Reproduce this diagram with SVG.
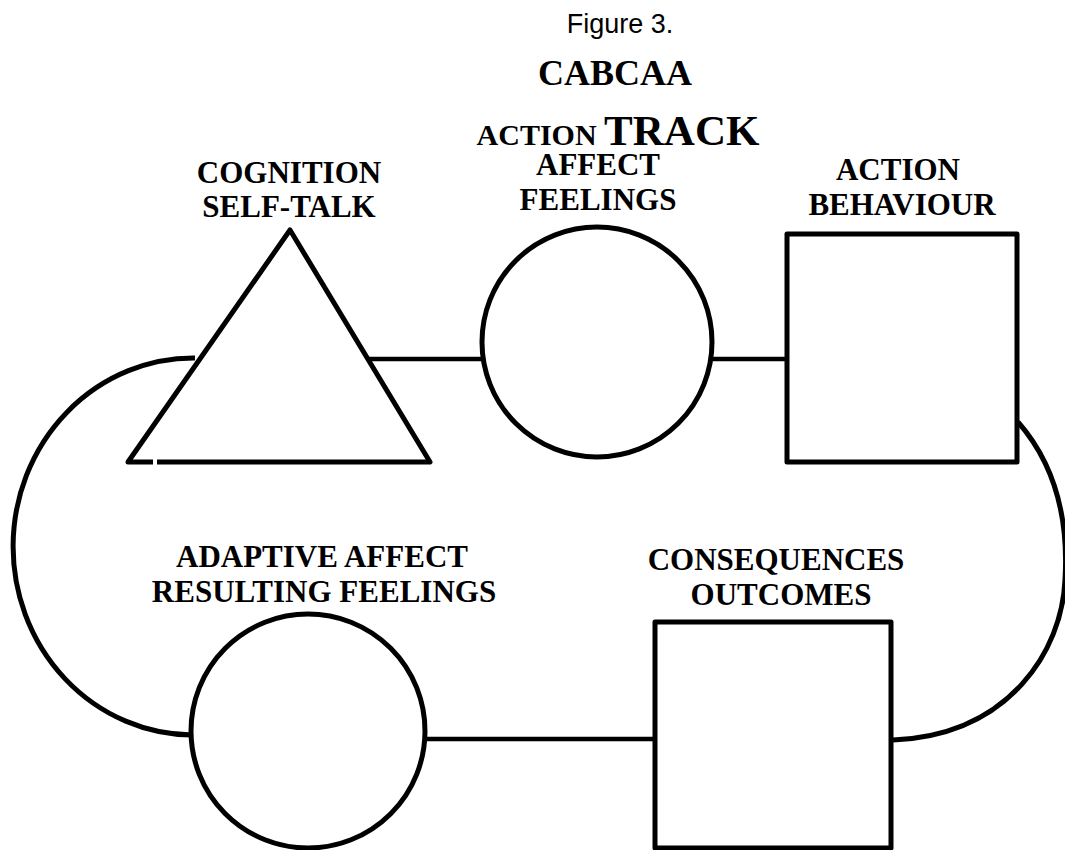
<svg xmlns="http://www.w3.org/2000/svg" width="1065" height="850" viewBox="0 0 1065 850">
  <style>
    .shape { fill: none; stroke: #000; stroke-width: 5; stroke-linejoin: round; }
    .link { fill: none; stroke: #000; stroke-width: 4.5; }
    .lbl { font-family: "Liberation Serif", "Times New Roman", serif; font-weight: bold; font-size: 31px; fill: #000; text-anchor: middle; }
    .cap { font-family: "Liberation Sans", Arial, sans-serif; font-size: 27px; fill: #000; text-anchor: middle; }
  </style>
  <rect width="1065" height="850" fill="#fff"/>

  <!-- headings -->
  <g id="title">
    <text class="cap" x="620" y="33">Figure 3.</text>
    <text class="lbl" x="615" y="85" style="font-size:36px">CABCAA</text>
    <text class="lbl" x="618" y="145"><tspan style="font-size:30px">ACTION </tspan><tspan style="font-size:43px">TRACK</tspan></text>
  </g>

  <!-- connectors -->
  <g id="connectors">
    <line class="link" x1="368" y1="359" x2="482" y2="359"/>
    <line class="link" x1="712" y1="359" x2="787" y2="359"/>
    <line class="link" x1="425" y1="739" x2="654" y2="739"/>
    <path class="shape" d="M195,358 A180,188 0 0 0 192,735"/>
    <path class="shape" d="M1018,422 C1060,470 1068,530 1065,580 C1062,650 1010,735 893,740"/>
  </g>

  <g id="cognition">
    <path class="shape" d="M153,462 L128,462 L290,230 L430,462 L157,462"/>
    <text class="lbl" x="289" y="183">COGNITION</text>
    <text class="lbl" x="289" y="217">SELF-TALK</text>
  </g>

  <g id="affect">
    <circle class="shape" cx="597" cy="342" r="115"/>
    <text class="lbl" x="598" y="175">AFFECT</text>
    <text class="lbl" x="598" y="210">FEELINGS</text>
  </g>

  <g id="action">
    <rect class="shape" x="787" y="234" width="230" height="228"/>
    <text class="lbl" x="898" y="180">ACTION</text>
    <text class="lbl" x="902" y="215">BEHAVIOUR</text>
  </g>

  <g id="consequences">
    <rect class="shape" x="655" y="622" width="236" height="226"/>
    <text class="lbl" x="776" y="570">CONSEQUENCES</text>
    <text class="lbl" x="781" y="605">OUTCOMES</text>
  </g>

  <g id="adaptive-affect">
    <circle class="shape" cx="308" cy="731" r="117"/>
    <text class="lbl" x="322" y="567">ADAPTIVE AFFECT</text>
    <text class="lbl" x="324" y="602">RESULTING FEELINGS</text>
  </g>
</svg>
